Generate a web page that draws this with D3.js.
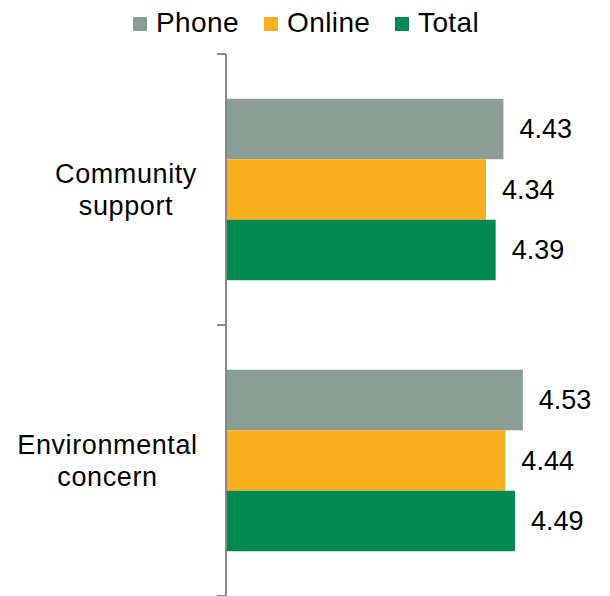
<!DOCTYPE html>
<html>
<head>
<meta charset="utf-8">
<script src="https://cdn.jsdelivr.net/npm/d3@7"></script>
<style>
  html, body { margin: 0; padding: 0; background: #fff; }
  svg { display: block; font-family: "Liberation Sans", Arial, sans-serif; }
</style>
</head>
<body>
<svg id="chart" width="610" height="596"></svg>
<script>
// Survey item categories (each label split into two lines)
const categories = ["Community support", "Environmental concern"];
const categoryLines = [["Community", "support"], ["Environmental", "concern"]];
const seriesNames = ["Phone", "Online", "Total"];
const phoneValues = [4.43, 4.53];
const onlineValues = [4.34, 4.44];
const totalValues = [4.39, 4.49];
const seriesColors = ["#8A9E96", "#FAAF1C", "#008A52"];

const seriesValues = [phoneValues, onlineValues, totalValues];

const svg = d3.select("#chart");
const axisX = 226;

const x = d3.scaleLinear().domain([3, 5]).range([axisX, axisX + 388]);
const y = d3.scaleBand().domain(categories).range([54, 596]).paddingInner(0).paddingOuter(0);
const ySeries = d3.scaleBand().domain(seriesNames).range([0, y.bandwidth()]).paddingInner(0).paddingOuter(0.74);

// Bars with value labels
const groups = svg.selectAll("g.cat")
  .data(categories)
  .join("g")
  .attr("class", "cat")
  .attr("transform", d => `translate(0,${y(d)})`);

groups.each(function(cat, ci) {
  const g = d3.select(this);
  seriesNames.forEach((s, si) => {
    const v = seriesValues[si][ci];
    g.append("rect")
      .attr("x", x(3))
      .attr("y", ySeries(s))
      .attr("width", x(v) - x(3))
      .attr("height", ySeries.bandwidth())
      .attr("fill", seriesColors[si]);
    g.append("text")
      .attr("x", x(v) + 16)
      .attr("y", ySeries(s) + ySeries.bandwidth() / 2)
      .attr("dy", "0.35em")
      .attr("font-size", 27)
      .attr("fill", "#000")
      .text(v.toFixed(2));
  });
});

// Category axis with ticks at band boundaries
const axisG = svg.append("g");
axisG.append("line")
  .attr("x1", axisX).attr("x2", axisX)
  .attr("y1", y.range()[0]).attr("y2", y.range()[1])
  .attr("stroke", "#888").attr("stroke-width", 2);
const tickYs = categories.map(c => y(c)).concat([y.range()[1]]);
axisG.selectAll("line.tick")
  .data(tickYs)
  .join("line")
  .attr("class", "tick")
  .attr("x1", axisX - 9).attr("x2", axisX)
  .attr("y1", d => d).attr("y2", d => d)
  .attr("stroke", "#888").attr("stroke-width", 2);

// Category labels
const labelCenters = [126, 107.5];
categories.forEach((c, ci) => {
  const lines = categoryLines[ci];
  const cy = y(c) + y.bandwidth() / 2;
  const t = svg.append("text")
    .attr("text-anchor", "middle")
    .attr("font-size", 27)
    .attr("letter-spacing", 0.6)
    .attr("fill", "#000");
  lines.forEach((ln, li) => {
    t.append("tspan")
      .attr("x", labelCenters[ci])
      .attr("y", cy + (li - (lines.length - 1) / 2) * 31.5)
      .attr("dy", "0.35em")
      .text(ln);
  });
});

// Legend
const legendX = [133, 264, 395];
const legend = svg.append("g");
seriesNames.forEach((s, si) => {
  legend.append("rect")
    .attr("x", legendX[si]).attr("y", 17)
    .attr("width", 14).attr("height", 14)
    .attr("fill", seriesColors[si]);
  legend.append("text")
    .attr("x", legendX[si] + 23)
    .attr("y", 32.3)
    .attr("font-size", 28)
    .attr("letter-spacing", 0.4)
    .attr("fill", "#000")
    .text(s);
});
</script>
</body>
</html>
